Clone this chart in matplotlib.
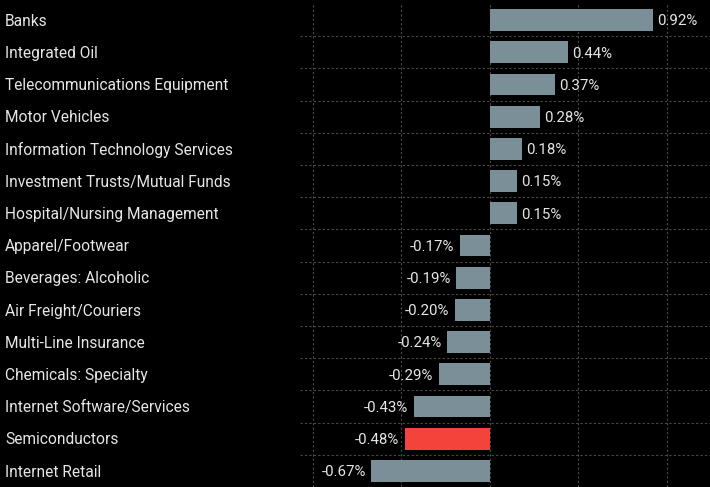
import matplotlib.pyplot as plt
from matplotlib.transforms import blended_transform_factory

categories = [
    'Banks', 'Integrated Oil', 'Telecommunications Equipment', 'Motor Vehicles',
    'Information Technology Services', 'Investment Trusts/Mutual Funds',
    'Hospital/Nursing Management', 'Apparel/Footwear', 'Beverages: Alcoholic',
    'Air Freight/Couriers', 'Multi-Line Insurance', 'Chemicals: Specialty',
    'Internet Software/Services', 'Semiconductors', 'Internet Retail',
]
values = [0.92, 0.44, 0.37, 0.28, 0.18, 0.15, 0.15, -0.17, -0.19, -0.20,
          -0.24, -0.29, -0.43, -0.48, -0.67]
highlight = 'Semiconductors'

BG = '#000000'
BAR = '#7b8f99'
RED = '#f4433a'
TXT = '#e6e6e6'
GRID = '#4a4a4a'

plt.rcParams['font.family'] = ['Roboto', 'DejaVu Sans']

fig = plt.figure(figsize=(7.10, 4.87), dpi=100, facecolor=BG)
ax = fig.add_axes([300 / 710, 0, 410 / 710, 483 / 487], facecolor=BG)

ypos = list(range(len(categories)))
colors = [RED if c == highlight else BAR for c in categories]
ax.barh(ypos, values, height=0.68, color=colors, zorder=2)

ax.set_ylim(len(categories) - 0.5, -0.5)
ax.set_xlim(-1.073, 1.243)

# grid
for gx in [-1.0, -0.5, 0.0, 0.5, 1.0]:
    ax.axvline(gx, color=GRID, lw=0.8, ls=(0, (2, 2)), zorder=1)
for gy in range(len(categories) - 1):
    ax.axhline(gy + 0.5, color=GRID, lw=0.8, ls=(0, (2, 2)), zorder=1)

for s in ax.spines.values():
    s.set_visible(False)
ax.set_xticks([])
ax.set_yticks([])

# category labels at the left edge of the figure
trans = blended_transform_factory(fig.transFigure, ax.transData)
for y, c in zip(ypos, categories):
    ax.text(5 / 710, y + 0.04, c, transform=trans, ha='left', va='center',
            color=TXT, fontsize=11.2, clip_on=False)

# value labels
for y, v in zip(ypos, values):
    if v >= 0:
        ax.annotate(f'{v:.2f}%', (v, y + 0.04), xytext=(3, 0), textcoords='offset points',
                    ha='left', va='center', color=TXT, fontsize=10.8, zorder=3)
    else:
        ax.annotate(f'{v:.2f}%', (v, y + 0.04), xytext=(-4, 0), textcoords='offset points',
                    ha='right', va='center', color=TXT, fontsize=10.8, zorder=3)

fig.savefig('out.png', dpi=100, facecolor=BG)
